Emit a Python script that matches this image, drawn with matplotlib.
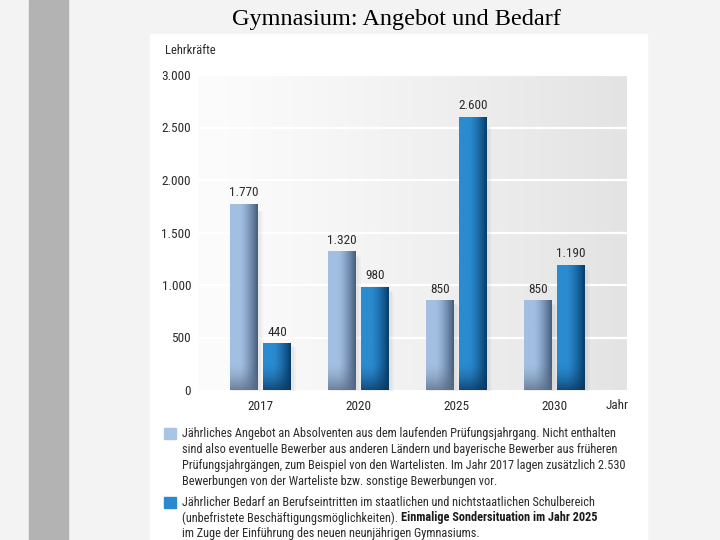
import numpy as np
import matplotlib.pyplot as plt
from matplotlib.colors import to_rgb
from matplotlib.patches import Rectangle

# Daten
jahre = ['2017', '2020', '2025', '2030']
angebot = [1770, 1320, 850, 850]   # Absolventen
bedarf = [440, 980, 2600, 1190]    # Berufseintritte
yticks = [0, 500, 1000, 1500, 2000, 2500, 3000]

legende_1 = ['Jährliches Angebot an Absolventen aus dem laufenden Prüfungsjahrgang. Nicht enthalten',
             'sind also eventuelle Bewerber aus anderen Ländern und bayerische Bewerber aus früheren',
             'Prüfungsjahrgängen, zum Beispiel von den Wartelisten. Im Jahr 2017 lagen zusätzlich 2.530',
             'Bewerbungen von der Warteliste bzw. sonstige Bewerbungen vor.']
legende_2 = ['Jährlicher Bedarf an Berufseintritten im staatlichen und nichtstaatlichen Schulbereich',
             '(unbefristete Beschäftigungsmöglichkeiten). ',
             'im Zuge der Einführung des neuen neunjährigen Gymnasiums.']
legende_2_fett = 'Einmalige Sondersituation im Jahr 2025'


def punkt(v):
    return f'{v:,}'.replace(',', '.')


FONT = ['Liberation Sans Narrow', 'Roboto Condensed', 'DejaVu Sans']
TXT = '#2b2b2b'
W, H = 720, 540


def fx(px):
    return px / W


def fy(py):
    return 1 - py / H


fig = plt.figure(figsize=(7.2, 5.4), dpi=100)
fig.patch.set_facecolor('#f3f3f3')

# Folienhintergrund: grauer Streifen + weisses Feld
fig.patches.append(Rectangle((fx(29), 0), fx(39), 1, transform=fig.transFigure,
                             color='#b3b3b3', zorder=0))
fig.patches.append(Rectangle((fx(150), 0), fx(497), fy(34), transform=fig.transFigure,
                             color='white', zorder=0))

fig.text(fx(396), fy(20), 'Gymnasium: Angebot und Bedarf', family='Liberation Serif',
         fontsize=17.5, ha='center', va='center', color='black')

ax = fig.add_axes([fx(198), fy(390), fx(627) - fx(198), fy(75) - fy(390)])
ax.set_zorder(2)
for s in ax.spines.values():
    s.set_visible(False)

x = np.arange(len(jahre))
bw = 28 / 98
off = 16.5 / 98
xlim = (-62.5 / 98, -62.5 / 98 + 429 / 98)
ylim = (0, 3000)

# Hintergrundverlauf
grad = np.linspace(0, 1, 200) ** 1.2
bg_l, bg_r = np.array(to_rgb('#fcfcfc')), np.array(to_rgb('#e3e3e3'))
bg = bg_l * (1 - grad[:, None]) + bg_r * grad[:, None]
ax.imshow(bg[None, :, :], extent=(*xlim, *ylim), aspect='auto', zorder=0,
          interpolation='bilinear')

for t in yticks[1:]:
    ax.axhline(t, color='white', lw=1.6, zorder=1)


def schattieren(p, links, rechts, unten):
    x0, w, h = p.get_x(), p.get_width(), p.get_height()
    t = np.linspace(0, 1, 40)
    prof = np.clip((t - 0.35) / 0.65, 0, 1) ** 1.4
    rgb = np.array(to_rgb(links)) * (1 - prof[:, None]) + np.array(to_rgb(rechts)) * prof[:, None]
    ys = np.linspace(h, 0, 200)
    v = (np.clip(1 - ys / 260, 0, 1) ** 1.6 * 0.75)[:, None, None]
    img = rgb[None, :, :] * (1 - v) + np.array(to_rgb(unten)) * v
    ax.imshow(img, extent=(x0, x0 + w, 0, h), aspect='auto', zorder=3,
              interpolation='bilinear')
    # weicher Schatten rechts/unten
    for k, a in [(0.035, 0.04), (0.02, 0.06)]:
        ax.add_patch(Rectangle((x0 + k * 0.6, -k * 400), w + k, h * 0.97, color='#555555',
                               alpha=a, lw=0, zorder=2, clip_on=False))


b1 = ax.bar(x - off, angebot, bw, color='none', zorder=3)
b2 = ax.bar(x + off, bedarf, bw, color='none', zorder=3)
for p in b1:
    schattieren(p, '#a2bfe2', '#465e7e', '#5b6c84')
for p in b2:
    schattieren(p, '#2a8bd0', '#073d6b', '#0a3560')

for xs, vals in [(x - off, angebot), (x + off, bedarf)]:
    for xi, v in zip(xs, vals):
        ax.text(xi, v + 45, punkt(v), ha='center', va='bottom', fontsize=9.5,
                family=FONT, color=TXT)

ax.set_xlim(*xlim)
ax.set_ylim(*ylim)
ax.set_xticks(x)
ax.set_xticklabels(jahre, family=FONT, fontsize=9.5, color=TXT)
ax.set_yticks(yticks)
ax.set_yticklabels([punkt(t) for t in yticks], family=FONT, fontsize=9.5, color=TXT)
ax.tick_params(length=0, pad=5)
ax.tick_params(axis='x', pad=7)
ax.text(xlim[1] - 0.1, -150, 'Jahr', ha='center', va='center', fontsize=9.5,
        family=FONT, color=TXT, clip_on=False)

fig.text(fx(165), fy(51), 'Lehrkräfte', family=FONT, fontsize=9, color=TXT,
         ha='left', va='center')

# Legende
fig.patches.append(Rectangle((fx(164), fy(439)), fx(12), fy(428) - fy(439),
                             transform=fig.transFigure, color='#a9c5e6', zorder=1))
fig.patches.append(Rectangle((fx(164), fy(508)), fx(12), fy(497) - fy(508),
                             transform=fig.transFigure, color='#2a8ad0', zorder=1))

for i, s in enumerate(legende_1):
    fig.text(fx(182), fy(433 + 16 * i), s, family=FONT, fontsize=8.8, color=TXT,
             va='center', ha='left')
for i, s in enumerate(legende_2):
    t = fig.text(fx(182), fy(502 + 16 * i), s, family=FONT, fontsize=8.8, color=TXT,
                 va='center', ha='left')
    if i == 1:
        r = fig.canvas.get_renderer()
        bb = t.get_window_extent(renderer=r)
        fig.text(bb.x1 / W, fy(502 + 16 * i), legende_2_fett, family=FONT, fontsize=8.8,
                 fontweight='bold', color='#1a1a1a', va='center', ha='left')

fig.savefig('out.png', dpi=100, facecolor=fig.get_facecolor())
